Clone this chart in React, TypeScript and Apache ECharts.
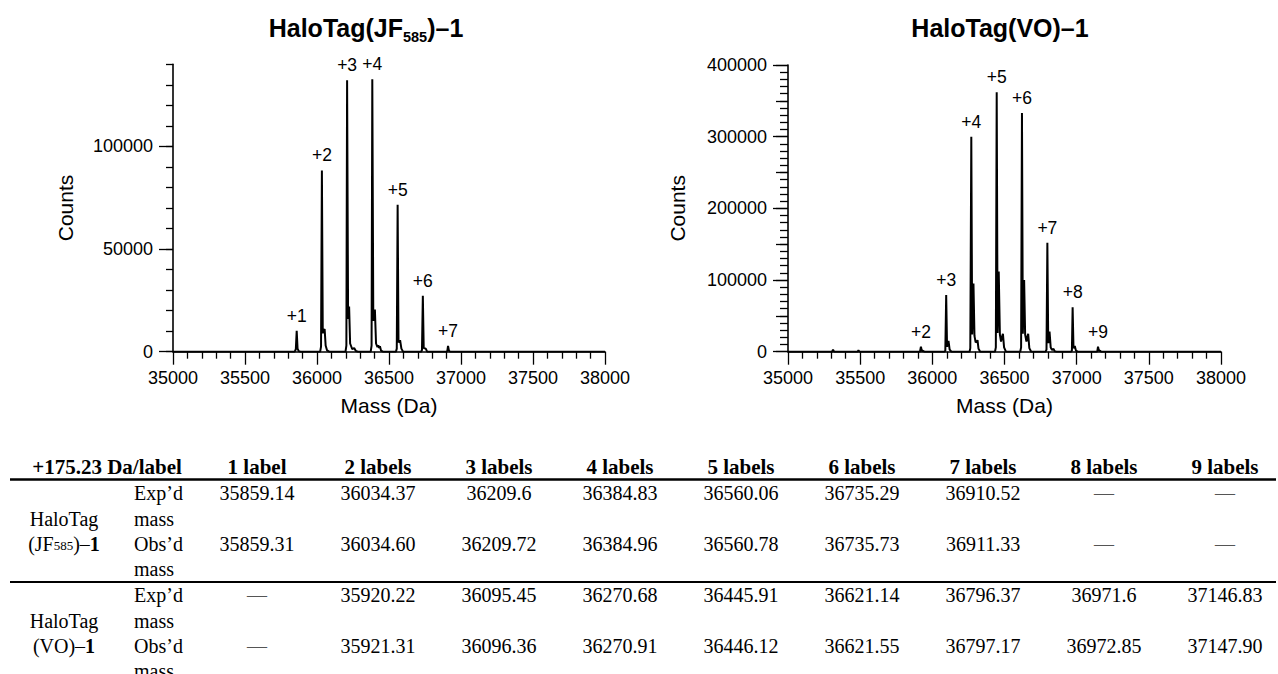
import React, { useEffect, useRef } from 'react';
import * as echarts from 'echarts';

const SANS = '"Liberation Sans", Arial, Helvetica, sans-serif';
const SERIF = '"Liberation Serif", "Times New Roman", Times, serif';

// ---------- Spectrum data (mass in Da, counts) ----------
const jfSpectrum: number[][] = [
  [35000, 0], [35845, 0], [35853, 1200], [35859, 10200], [35865, 1500], [35873, 300], [35885, 0],
  [36022, 0], [36028, 2500], [36034, 88300], [36040, 9000], [36048, 10500], [36053, 11000], [36060, 3000], [36070, 600], [36085, 0],
  [36198, 0], [36204, 3000], [36209, 132200], [36216, 16000], [36223, 22000], [36230, 4000], [36245, 1200], [36258, 1800], [36270, 300], [36285, 0],
  [36373, 0], [36379, 3000], [36384, 132700], [36391, 15000], [36402, 20600], [36410, 4000], [36420, 2200], [36426, 3200], [36431, 1800], [36437, 2600], [36445, 500], [36458, 0],
  [36548, 0], [36554, 1500], [36560, 71600], [36566, 4500], [36577, 5600], [36586, 1500], [36598, 0],
  [36723, 0], [36729, 800], [36735, 27300], [36741, 1800], [36755, 1500], [36765, 0],
  [36900, 0], [36905, 400], [36910, 2800], [36916, 500], [36925, 0],
  [38000, 0],
];

const voSpectrum: number[][] = [
  [35000, 0], [35305, 0], [35312, 2800], [35320, 0], [35482, 0], [35488, 1800], [35495, 0],
  [35910, 0], [35915, 800], [35921, 7000], [35927, 1000], [35935, 1200], [35945, 0],
  [36084, 0], [36090, 1500], [36096, 79000], [36102, 7000], [36112, 15000], [36120, 3000], [36132, 0],
  [36258, 0], [36263, 5000], [36270, 300000], [36276, 24000], [36285, 95000], [36292, 22000], [36300, 13000], [36307, 14000], [36313, 16000], [36320, 4000], [36332, 0],
  [36434, 0], [36440, 6000], [36446, 362000], [36452, 26000], [36460, 112000], [36468, 24000], [36476, 14000], [36482, 20000], [36489, 25000], [36497, 6000], [36510, 0],
  [36609, 0], [36615, 6000], [36621, 333000], [36627, 25000], [36636, 100000], [36643, 24000], [36652, 14000], [36658, 20000], [36664, 25000], [36672, 5000], [36685, 0],
  [36785, 0], [36791, 3000], [36797, 152000], [36803, 12000], [36812, 28000], [36820, 6000], [36830, 2500], [36840, 4000], [36848, 500], [36860, 0],
  [36961, 0], [36967, 1500], [36972, 62000], [36978, 5000], [36987, 8000], [36995, 1500], [37008, 0],
  [37138, 0], [37143, 800], [37148, 7000], [37154, 1000], [37162, 1500], [37170, 0],
  [38000, 0],
];

// ---------- Peak annotations ----------
const jfPeakMass = [35859, 36034, 36209, 36384, 36560, 36735, 36910];
const jfPeakCounts = [10200, 88300, 132200, 132700, 71600, 27300, 2800];
const jfPeakLabels = ['+1', '+2', '+3', '+4', '+5', '+6', '+7'];

const voPeakMass = [35921, 36096, 36270, 36446, 36621, 36797, 36972, 37148];
const voPeakCounts = [7000, 79000, 300000, 362000, 333000, 152000, 62000, 7000];
const voPeakLabels = ['+2', '+3', '+4', '+5', '+6', '+7', '+8', '+9'];

// ---------- Axis ticks ----------
const massMin = 35000;
const massMax = 38000;
const jfCountMax = 140000;
const jfCountLabels = [0, 50000, 100000];
const voCountMax = 400000;

// ---------- Table ----------
const tableCorner = '+175.23 Da/label';
const labelHeaders = ['1 label', '2 labels', '3 labels', '4 labels', '5 labels', '6 labels', '7 labels', '8 labels', '9 labels'];
const jfExpd = ['35859.14', '36034.37', '36209.6', '36384.83', '36560.06', '36735.29', '36910.52', '—', '—'];
const jfObsd = ['35859.31', '36034.60', '36209.72', '36384.96', '36560.78', '36735.73', '36911.33', '—', '—'];
const voExpd = ['—', '35920.22', '36095.45', '36270.68', '36445.91', '36621.14', '36796.37', '36971.6', '37146.83'];
const voObsd = ['—', '35921.31', '36096.36', '36270.91', '36446.12', '36621.55', '36797.17', '36972.85', '37147.90'];

const black = '#000';
const lineSt = { color: black, width: 1.3 };
const plain = (v: number) => String(v);

function xAxisCfg(gridIndex: number) {
  return {
    gridIndex,
    type: 'value',
    min: massMin,
    max: massMax,
    interval: 500,
    axisLine: { show: true, onZero: false, lineStyle: { color: black, width: 1.6 } },
    axisTick: { show: true, length: 13, lineStyle: lineSt },
    minorTick: { show: true, splitNumber: 5, length: 7, lineStyle: lineSt },
    splitLine: { show: false },
    minorSplitLine: { show: false },
    axisLabel: { margin: 17, fontSize: 18, color: black, fontFamily: SANS, formatter: plain },
    name: 'Mass (Da)',
    nameLocation: 'middle',
    nameGap: 43,
    nameTextStyle: { fontSize: 21, color: black, fontFamily: SANS },
  };
}

function peakScatter(idx: number, mass: number[], counts: number[], labels: string[]) {
  return {
    type: 'scatter',
    xAxisIndex: idx,
    yAxisIndex: idx === 0 ? 0 : 2,
    symbol: 'circle',
    symbolSize: 2,
    itemStyle: { color: 'rgba(0,0,0,0)' },
    silent: true,
    z: 5,
    data: mass.map((m, i) => [m, counts[i], labels[i]]),
    label: {
      show: true,
      position: 'top',
      distance: 5,
      formatter: (p: any) => p.value[2],
      fontSize: 17.5,
      color: black,
      opacity: 1,
      fontFamily: SANS,
    },
  };
}

function buildTable(): any[] {
  const els: any[] = [];
  const colX = labelHeaders.map((_, i) => 257 + 121 * i);
  const bodyFont = { fontSize: 20, fontFamily: SERIF, fill: black };
  const headFont = { fontSize: 21, fontFamily: SERIF, fill: black, fontWeight: 'bold' };
  els.push({
    type: 'text', x: 107, y: 467,
    style: { text: tableCorner, ...headFont, align: 'center', verticalAlign: 'middle' },
  });
  labelHeaders.forEach((h, i) => {
    els.push({
      type: 'text', x: colX[i], y: 467,
      style: { text: h, ...headFont, align: 'center', verticalAlign: 'middle' },
    });
  });
  els.push({ type: 'line', shape: { x1: 10, y1: 479.5, x2: 1276, y2: 479.5 }, style: { stroke: black, lineWidth: 2.5 } });
  els.push({ type: 'line', shape: { x1: 10, y1: 582, x2: 1276, y2: 582 }, style: { stroke: black, lineWidth: 2 } });

  const groups = [
    { top: 493, name: '{n|(JF}{s|585}{n|)–}{b|1}', exp: jfExpd, obs: jfObsd },
    { top: 595, name: '{n|(VO)–}{b|1}', exp: voExpd, obs: voObsd },
  ];
  const rich = {
    n: { fontSize: 20, fontFamily: SERIF, color: black, lineHeight: 24 },
    b: { fontSize: 20, fontFamily: SERIF, color: black, fontWeight: 'bold', lineHeight: 24 },
    s: { fontSize: 13, fontFamily: SERIF, color: black, lineHeight: 13, verticalAlign: 'bottom', padding: [0, 0, 4, 0] },
  };
  groups.forEach((g) => {
    const yExp = g.top;
    const yObs = g.top + 51;
    els.push({ type: 'text', x: 64, y: g.top + 26, style: { text: 'HaloTag', ...bodyFont, align: 'center', verticalAlign: 'middle' } });
    els.push({ type: 'text', x: 64, y: yObs, style: { text: g.name, rich, align: 'center', verticalAlign: 'middle' } });
    els.push({ type: 'text', x: 134, y: yExp, style: { text: 'Exp’d', ...bodyFont, align: 'left', verticalAlign: 'middle' } });
    els.push({ type: 'text', x: 134, y: yExp + 26, style: { text: 'mass', ...bodyFont, align: 'left', verticalAlign: 'middle' } });
    els.push({ type: 'text', x: 134, y: yObs, style: { text: 'Obs’d', ...bodyFont, align: 'left', verticalAlign: 'middle' } });
    els.push({ type: 'text', x: 134, y: yObs + 25, style: { text: 'mass', ...bodyFont, align: 'left', verticalAlign: 'middle' } });
    g.exp.forEach((v, i) => {
      els.push({ type: 'text', x: colX[i], y: yExp, style: { text: v, ...bodyFont, fill: v === '—' ? '#555' : black, align: 'center', verticalAlign: 'middle' } });
    });
    g.obs.forEach((v, i) => {
      els.push({ type: 'text', x: colX[i], y: yObs, style: { text: v, ...bodyFont, fill: v === '—' ? '#555' : black, align: 'center', verticalAlign: 'middle' } });
    });
  });
  return els;
}

function buildTitles(): any[] {
  const rich = {
    a: { fontSize: 25, fontWeight: 'bold', fontFamily: SANS, color: black, lineHeight: 30 },
    s: { fontSize: 14.5, fontWeight: 'bold', fontFamily: SANS, color: black, lineHeight: 14, padding: [18, 0, 0, 0] },
  };
  return [
    { type: 'text', x: 366, y: 28, style: { text: '{a|HaloTag(JF}{s|585}{a|)–1}', rich, align: 'center', verticalAlign: 'middle' } },
    { type: 'text', x: 1000, y: 28, style: { text: '{a|HaloTag(VO)–1}', rich, align: 'center', verticalAlign: 'middle' } },
  ];
}

const option: any = {
  animation: false,
  backgroundColor: '#fff',
  grid: [
    { left: 173, top: 64.3, width: 432, height: 287.4 },
    { left: 788, top: 65, width: 433, height: 286.7 },
  ],
  xAxis: [xAxisCfg(0), xAxisCfg(1)],
  yAxis: [
    {
      gridIndex: 0, type: 'value', position: 'left', min: 0, max: jfCountMax, interval: 10000,
      axisLine: { show: true, lineStyle: { color: black, width: 1.6 } },
      axisTick: { show: true, length: 14, customValues: jfCountLabels, lineStyle: lineSt },
      axisLabel: { customValues: jfCountLabels, margin: 20, fontSize: 18, color: black, fontFamily: SANS, formatter: plain },
      splitLine: { show: false },
      name: 'Counts', nameLocation: 'middle', nameGap: 97, nameRotate: 90,
      nameTextStyle: { fontSize: 21, color: black, fontFamily: SANS },
    },
    {
      gridIndex: 0, type: 'value', position: 'left', min: 0, max: jfCountMax, interval: 10000,
      axisLine: { show: false }, axisTick: { show: true, length: 7, lineStyle: lineSt },
      axisLabel: { show: false }, splitLine: { show: false },
    },
    {
      gridIndex: 1, type: 'value', position: 'left', min: 0, max: voCountMax, interval: 100000,
      axisLine: { show: true, lineStyle: { color: black, width: 1.6 } },
      axisTick: { show: true, length: 15, lineStyle: lineSt },
      minorTick: { show: true, splitNumber: 10, length: 8, lineStyle: lineSt },
      axisLabel: { margin: 21, fontSize: 18, color: black, fontFamily: SANS, formatter: plain },
      splitLine: { show: false }, minorSplitLine: { show: false },
      name: 'Counts', nameLocation: 'middle', nameGap: 100, nameRotate: 90,
      nameTextStyle: { fontSize: 21, color: black, fontFamily: SANS },
    },
    {
      gridIndex: 1, type: 'value', position: 'left', min: 0, max: voCountMax, interval: 50000,
      axisLine: { show: false }, axisTick: { show: true, length: 12, lineStyle: lineSt },
      axisLabel: { show: false }, splitLine: { show: false },
    },
  ],
  series: [
    {
      type: 'line', xAxisIndex: 0, yAxisIndex: 0, data: jfSpectrum, showSymbol: false, symbol: 'none',
      lineStyle: { color: black, width: 2 }, silent: true,
    },
    {
      type: 'line', xAxisIndex: 1, yAxisIndex: 2, data: voSpectrum, showSymbol: false, symbol: 'none',
      lineStyle: { color: black, width: 2 }, silent: true,
    },
    peakScatter(0, jfPeakMass, jfPeakCounts, jfPeakLabels),
    peakScatter(1, voPeakMass, voPeakCounts, voPeakLabels),
  ],
  graphic: [...buildTitles(), ...buildTable()],
};

export default function App() {
  const ref = useRef<HTMLDivElement>(null);
  useEffect(() => {
    const chart = echarts.init(ref.current!, null, { renderer: 'svg' });
    chart.setOption(option);
    return () => chart.dispose();
  }, []);
  return (
    <div
      ref={ref}
      style={{ position: 'fixed', left: 0, top: 0, width: 1278, height: 674, background: '#fff' }}
    />
  );
}
